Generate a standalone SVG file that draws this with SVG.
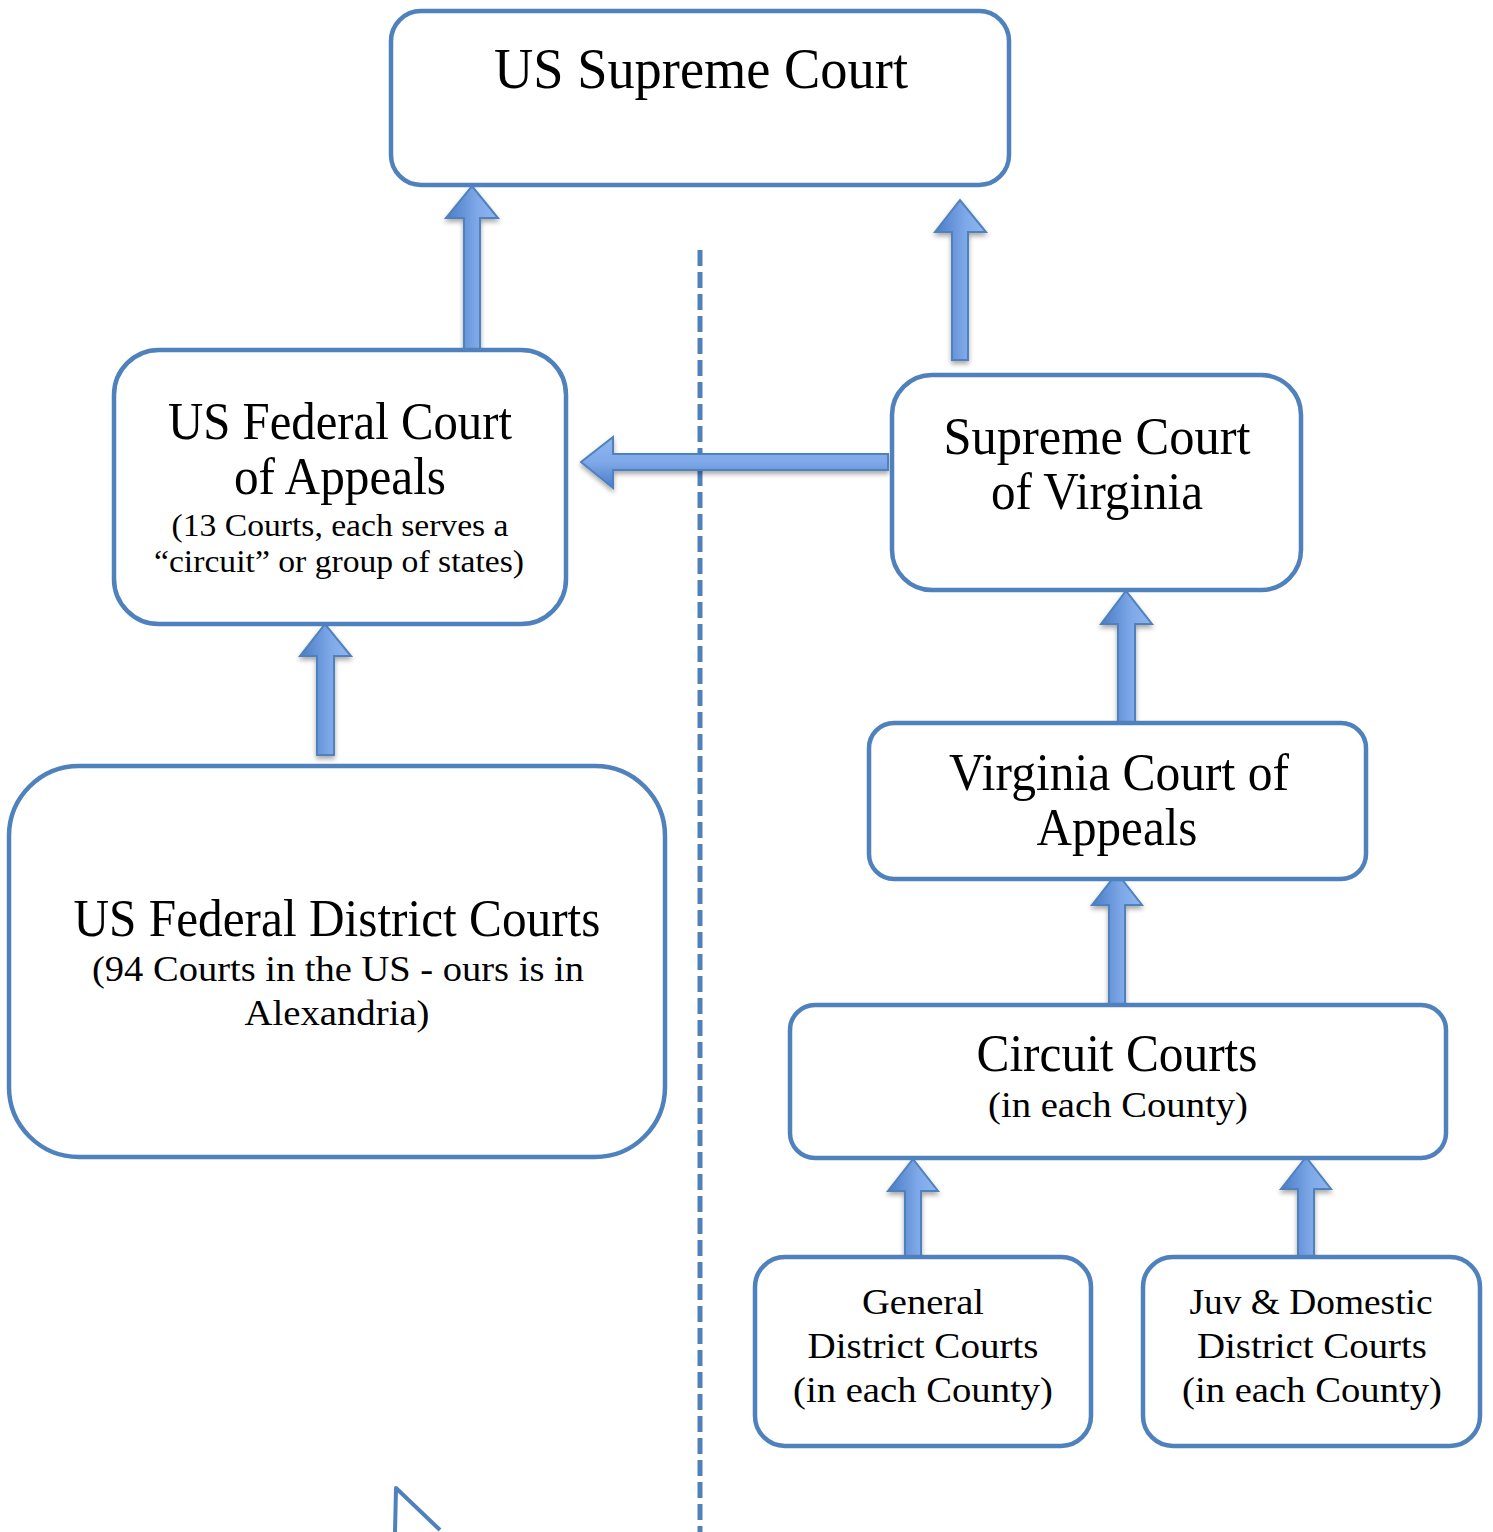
<svg xmlns="http://www.w3.org/2000/svg" width="1493" height="1532" viewBox="0 0 1493 1532">
<defs>
<linearGradient id="gv" x1="0" y1="0" x2="1" y2="0">
<stop offset="0" stop-color="#4a7cc6"/><stop offset="0.6" stop-color="#7ea8e8"/><stop offset="1" stop-color="#8fb7f0"/>
</linearGradient>
<linearGradient id="gh" x1="0" y1="0" x2="0" y2="1">
<stop offset="0" stop-color="#8fb7f0"/><stop offset="0.5" stop-color="#7ea8e8"/><stop offset="1" stop-color="#4a7cc6"/>
</linearGradient>
<filter id="sh" x="-30%" y="-10%" width="160%" height="130%">
<feGaussianBlur in="SourceAlpha" stdDeviation="2.5"/>
<feOffset dx="0" dy="3" result="b"/>
<feComponentTransfer><feFuncA type="linear" slope="0.35"/></feComponentTransfer>
<feMerge><feMergeNode/><feMergeNode in="SourceGraphic"/></feMerge>
</filter>
</defs>
<style>
.box{fill:#fff;stroke:#4f81bd;stroke-width:4.5}
.t{font-family:"Liberation Serif","DejaVu Serif",serif;fill:#000;text-anchor:middle}
.big{font-size:52px}
.mid{font-size:36px}
.sm{font-size:32px}
.av{fill:url(#gv);stroke:#4f81bd;stroke-width:2;filter:url(#sh)}
.ah{fill:url(#gh);stroke:#4f81bd;stroke-width:2;filter:url(#sh)}
.dash{stroke:#4f81bd;stroke-width:5;stroke-dasharray:16 6;fill:none}
</style>

<g id="connectors">
<line class="dash" x1="700" y1="250" x2="700" y2="1532"/>
<path class="av" d="M464,350 L464,218 L446,218 L472,186 L498,218 L480,218 L480,350 Z"/>
<path class="av" d="M952,360 L952,232 L935,232 L960,200 L986,232 L968,232 L968,360 Z"/>
<path class="ah" d="M888,454 L613,454 L613,437 L581,462 L613,488 L613,470 L888,470 Z"/>
<path class="av" d="M317,755 L317,656 L300,656 L325,624 L351,656 L334,656 L334,755 Z"/>
<path class="av" d="M1118,723 L1118,624 L1101,624 L1126,591 L1152,624 L1135,624 L1135,723 Z"/>
<path class="av" d="M1109,1005 L1109,905 L1092,905 L1117,873 L1142,905 L1125,905 L1125,1005 Z"/>
<path class="av" d="M905,1257 L905,1191 L888,1191 L913,1159 L938,1191 L921,1191 L921,1257 Z"/>
<path class="av" d="M1298,1257 L1298,1189 L1281,1189 L1306,1157 L1331,1189 L1314,1189 L1314,1257 Z"/>
<path d="M395,1532 L396,1488 L440,1530" fill="none" stroke="#4f81bd" stroke-width="4" stroke-linejoin="round"/>
</g>

<g id="us-supreme">
<rect class="box" x="391" y="11" width="618" height="174" rx="30"/>
<text class="t big" x="701" y="88" textLength="414" lengthAdjust="spacingAndGlyphs" style="font-size:58px">US Supreme Court</text>
</g>

<g id="fed-appeals">
<rect class="box" x="114" y="350" width="452" height="274" rx="45"/>
<text class="t big" x="340" y="439" textLength="344" lengthAdjust="spacingAndGlyphs">US Federal Court</text>
<text class="t big" x="340" y="494" textLength="212" lengthAdjust="spacingAndGlyphs">of Appeals</text>
<text class="t sm" x="340" y="536" textLength="337" lengthAdjust="spacingAndGlyphs">(13 Courts, each serves a</text>
<text class="t sm" x="339" y="572" textLength="370" lengthAdjust="spacingAndGlyphs">“circuit” or group of states)</text>
</g>

<g id="fed-district">
<rect class="box" x="9" y="766" width="656" height="391" rx="70"/>
<text class="t big" x="337" y="936" textLength="527" lengthAdjust="spacingAndGlyphs">US Federal District Courts</text>
<text class="t mid" x="338" y="981" textLength="492" lengthAdjust="spacingAndGlyphs">(94 Courts in the US - ours is in</text>
<text class="t mid" x="337" y="1025" textLength="185" lengthAdjust="spacingAndGlyphs">Alexandria)</text>
</g>

<g id="va-supreme">
<rect class="box" x="892" y="375" width="409" height="215" rx="40"/>
<text class="t big" x="1097" y="454" textLength="307" lengthAdjust="spacingAndGlyphs">Supreme Court</text>
<text class="t big" x="1097" y="509" textLength="212" lengthAdjust="spacingAndGlyphs">of Virginia</text>
</g>

<g id="va-appeals">
<rect class="box" x="869" y="723" width="497" height="156" rx="25"/>
<text class="t big" x="1119" y="790" textLength="340" lengthAdjust="spacingAndGlyphs">Virginia Court of</text>
<text class="t big" x="1117" y="845" textLength="161" lengthAdjust="spacingAndGlyphs">Appeals</text>
</g>

<g id="circuit">
<rect class="box" x="790" y="1005" width="656" height="153" rx="25"/>
<text class="t big" x="1117" y="1071" textLength="281" lengthAdjust="spacingAndGlyphs">Circuit Courts</text>
<text class="t mid" x="1118" y="1117" textLength="260" lengthAdjust="spacingAndGlyphs">(in each County)</text>
</g>

<g id="general-district">
<rect class="box" x="755" y="1257" width="336" height="189" rx="30"/>
<text class="t mid" x="923" y="1314" textLength="122" lengthAdjust="spacingAndGlyphs">General</text>
<text class="t mid" x="923" y="1358" textLength="231" lengthAdjust="spacingAndGlyphs">District Courts</text>
<text class="t mid" x="923" y="1402" textLength="260" lengthAdjust="spacingAndGlyphs">(in each County)</text>
</g>

<g id="juv-domestic">
<rect class="box" x="1143" y="1257" width="337" height="189" rx="30"/>
<text class="t mid" x="1311" y="1314" textLength="243" lengthAdjust="spacingAndGlyphs">Juv &amp; Domestic</text>
<text class="t mid" x="1312" y="1358" textLength="230" lengthAdjust="spacingAndGlyphs">District Courts</text>
<text class="t mid" x="1312" y="1402" textLength="260" lengthAdjust="spacingAndGlyphs">(in each County)</text>
</g>
</svg>
